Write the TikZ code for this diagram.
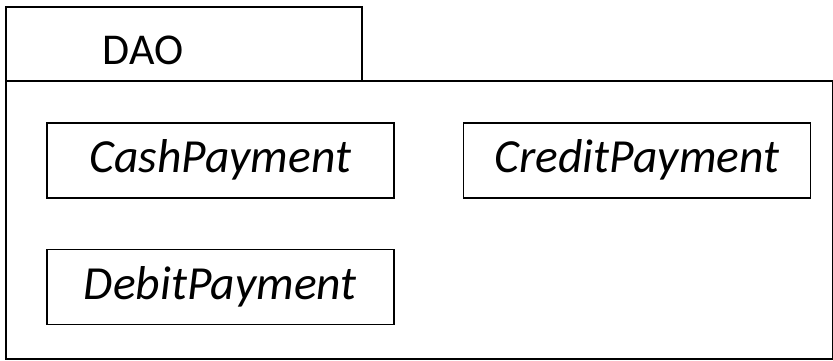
\documentclass[tikz,border=0pt]{standalone}
\usepackage{fontspec}
\setmainfont{Carlito}
\usetikzlibrary{positioning}

\begin{document}
\begin{tikzpicture}[x=1pt, y=-1pt,
    pkg/.style={draw, line width=1.6pt, inner sep=0pt},
    cls/.style={draw, line width=1.6pt, inner sep=0pt,
        minimum width=347pt, minimum height=75pt,
        font=\fontsize{47.5}{50}\selectfont\itshape}]
    \useasboundingbox (0,0) rectangle (833,361);

    \node[pkg, minimum width=356pt, minimum height=74pt, anchor=north west] (tab) at (5,6) {};
    \node[pkg, minimum width=827pt, minimum height=278pt, anchor=north west] (body) at (5,80) {};
    \node[anchor=base, font=\fontsize{44}{48}\selectfont] (name) at (143,65) {DAO};

    \node[cls, anchor=north west] (cash) at (46,122) {CashPayment};
    \node[cls, right=68pt of cash] (credit) {CreditPayment};
    \node[cls, below=50pt of cash] (debit) {DebitPayment};
\end{tikzpicture}
\end{document}
